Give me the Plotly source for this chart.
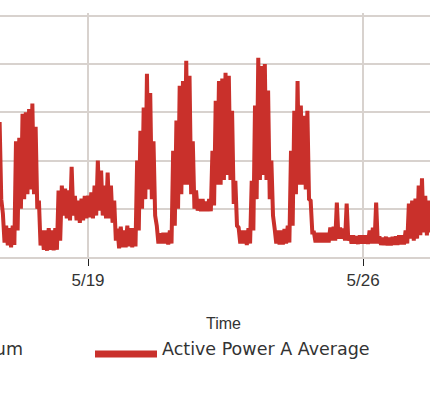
import pandas as pd
import plotly.graph_objects as go

# ---- data ----
start = pd.Timestamp("2013-05-16 18:00")
hours = list(range(0, 264, 2))  # sample times, hours after start
upper = [28, 9, 6.5, 6, 6.5, 24, 24.7, 29.7, 30, 30.7, 31.8, 27,
         11.7, 5.5, 5.5, 6, 5.5, 6, 13.8, 14.8, 14.2, 13.8, 18.7, 12.7,
         11.7, 12.1, 12.7, 12.7, 13.4, 14.8, 20, 17.9, 14.8, 17.5, 14.8, 11.7,
         5.9, 6.3, 5.5, 6.5, 6, 6, 20, 26.2, 31, 38, 34, 24,
         6.5, 4.9, 5, 5, 5.5, 22, 28.3, 35.5, 36.5, 40.7, 37.6, 24,
         13.8, 12, 12, 11.5, 12, 22, 32.4, 36.5, 37, 38.2, 37.6, 30.3,
         15.8, 6.1, 5.5, 5.5, 6, 15.8, 31.4, 41.3, 39.6, 40, 34.5, 20,
         5.9, 5.5, 5.5, 5.8, 6.5, 22, 30.3, 36.5, 31.4, 29.3, 30.3, 11.7,
         5.1, 5, 5, 5, 5, 6.1, 6.3, 11.3, 6.1, 5.9, 11.1, 4.5,
         4.5, 4.3, 4.5, 4.5, 4.5, 5.5, 6.1, 11.3, 4.3, 4, 4.2, 4,
         4.2, 4.3, 4.5, 4.5, 5.5, 11.1, 11.7, 12.1, 14.8, 16.3, 12.7, 11.7]
lower = [12, 3, 2.4, 2, 2.5, 5.5, 10, 12, 13, 14, 13, 10,
         2.4, 1.5, 1.3, 1.5, 1.4, 1.5, 3.4, 8.6, 8, 7.6, 8.6, 7.6,
         7.1, 7.6, 8, 8.2, 8, 8.6, 9.6, 8.6, 8, 8, 7.1, 3.4,
         1.8, 2, 2, 2.2, 2, 2.2, 5.5, 10, 12, 14, 12, 8.6,
         2.8, 2.8, 2.8, 2.6, 2.8, 6.5, 10, 13, 15, 15, 13, 10,
         9.6, 9.5, 9.5, 9.5, 9.5, 10.7, 15, 15, 16, 17, 16, 11,
         6.5, 2.8, 2.8, 2.5, 2.8, 5.5, 12, 16, 17, 16, 12, 8.6,
         2.8, 2.6, 2.6, 2.8, 3, 6.5, 13, 15, 15, 14, 12, 5.1,
         3, 3, 3, 3, 3, 3.4, 3.4, 3.8, 3.8, 3.4, 3.4, 2.8,
         2.8, 2.7, 2.8, 2.8, 2.7, 2.8, 2.8, 2.8, 2.5, 2.5, 2.4, 2.4,
         2.5, 2.5, 2.6, 2.6, 2.8, 3.8, 3.4, 3.8, 4.5, 5.1, 4.5, 5.1]
assert len(hours) == len(upper) == len(lower)

tick_dates = ["2013-05-19", "2013-05-26"]
tick_text = ["5/19", "5/26"]
series_names = ["Active Power A Maximum", "Active Power A Average"]

# build the noisy trace: each sample alternates between its high and low reading
t_vals, y_vals = [], []
for h, u, l in zip(hours, upper, lower):
    t_vals.append(start + pd.Timedelta(hours=h))
    y_vals.append(u)
    t_vals.append(start + pd.Timedelta(hours=h + 1))
    y_vals.append(l)

RED = "#c9302b"
GRID = "#d8d2ce"
W, H = 430, 400
ML, MR, MT, MB = 0, 0, 13, 143
PW = W - ML - MR
PH = H - MT - MB

fig = go.Figure()
fig.add_trace(go.Scatter(x=t_vals, y=y_vals, mode="lines",
                         line=dict(color=RED, width=4, simplify=False),
                         name=series_names[1], showlegend=False,
                         hoverinfo="skip"))

def px_x(px):
    return (px - ML) / PW

def px_y(py):
    return (H - MB - py) / PH

fig.update_layout(
    width=W, height=H,
    margin=dict(l=ML, r=MR, t=MT, b=MB, pad=0),
    paper_bgcolor="white", plot_bgcolor="white",
    showlegend=False,
    xaxis=dict(
        type="date",
        range=["2013-05-16 18:14", "2013-05-27 16:54"],
        tickvals=tick_dates, ticktext=tick_text,
        ticks="outside", ticklen=7, tickcolor="#222", tickwidth=1,
        showgrid=True, gridcolor=GRID, gridwidth=2,
        showline=True, linecolor=GRID, linewidth=2,
        zeroline=False,
        tickfont=dict(family="Liberation Sans", size=17, color="#333"),
        fixedrange=True,
    ),
    yaxis=dict(
        range=[0, 50.6], tickvals=[0, 10, 20, 30, 40, 50],
        showticklabels=False, ticks="",
        showgrid=True, gridcolor=GRID, gridwidth=2,
        zeroline=False, showline=False, fixedrange=True,
    ),
    annotations=[
        dict(text="Time", xref="paper", yref="paper",
             x=px_x(223.5), y=px_y(323), xanchor="center", yanchor="middle",
             showarrow=False,
             font=dict(family="Liberation Sans", size=16, color="#333")),
        dict(text=series_names[0], xref="paper", yref="paper",
             x=px_x(25), y=px_y(349), xanchor="right", yanchor="middle",
             showarrow=False,
             font=dict(family="DejaVu Sans", size=17.5, color="#333")),
        dict(text=series_names[1], xref="paper", yref="paper",
             x=px_x(160), y=px_y(349), xanchor="left", yanchor="middle",
             showarrow=False,
             font=dict(family="DejaVu Sans", size=17.5, color="#333")),
    ],
    shapes=[
        dict(type="line", xref="paper", yref="paper",
             x0=px_x(95), x1=px_x(157), y0=px_y(354), y1=px_y(354),
             line=dict(color=RED, width=7)),
    ],
)

fig.write_html("out.html")
